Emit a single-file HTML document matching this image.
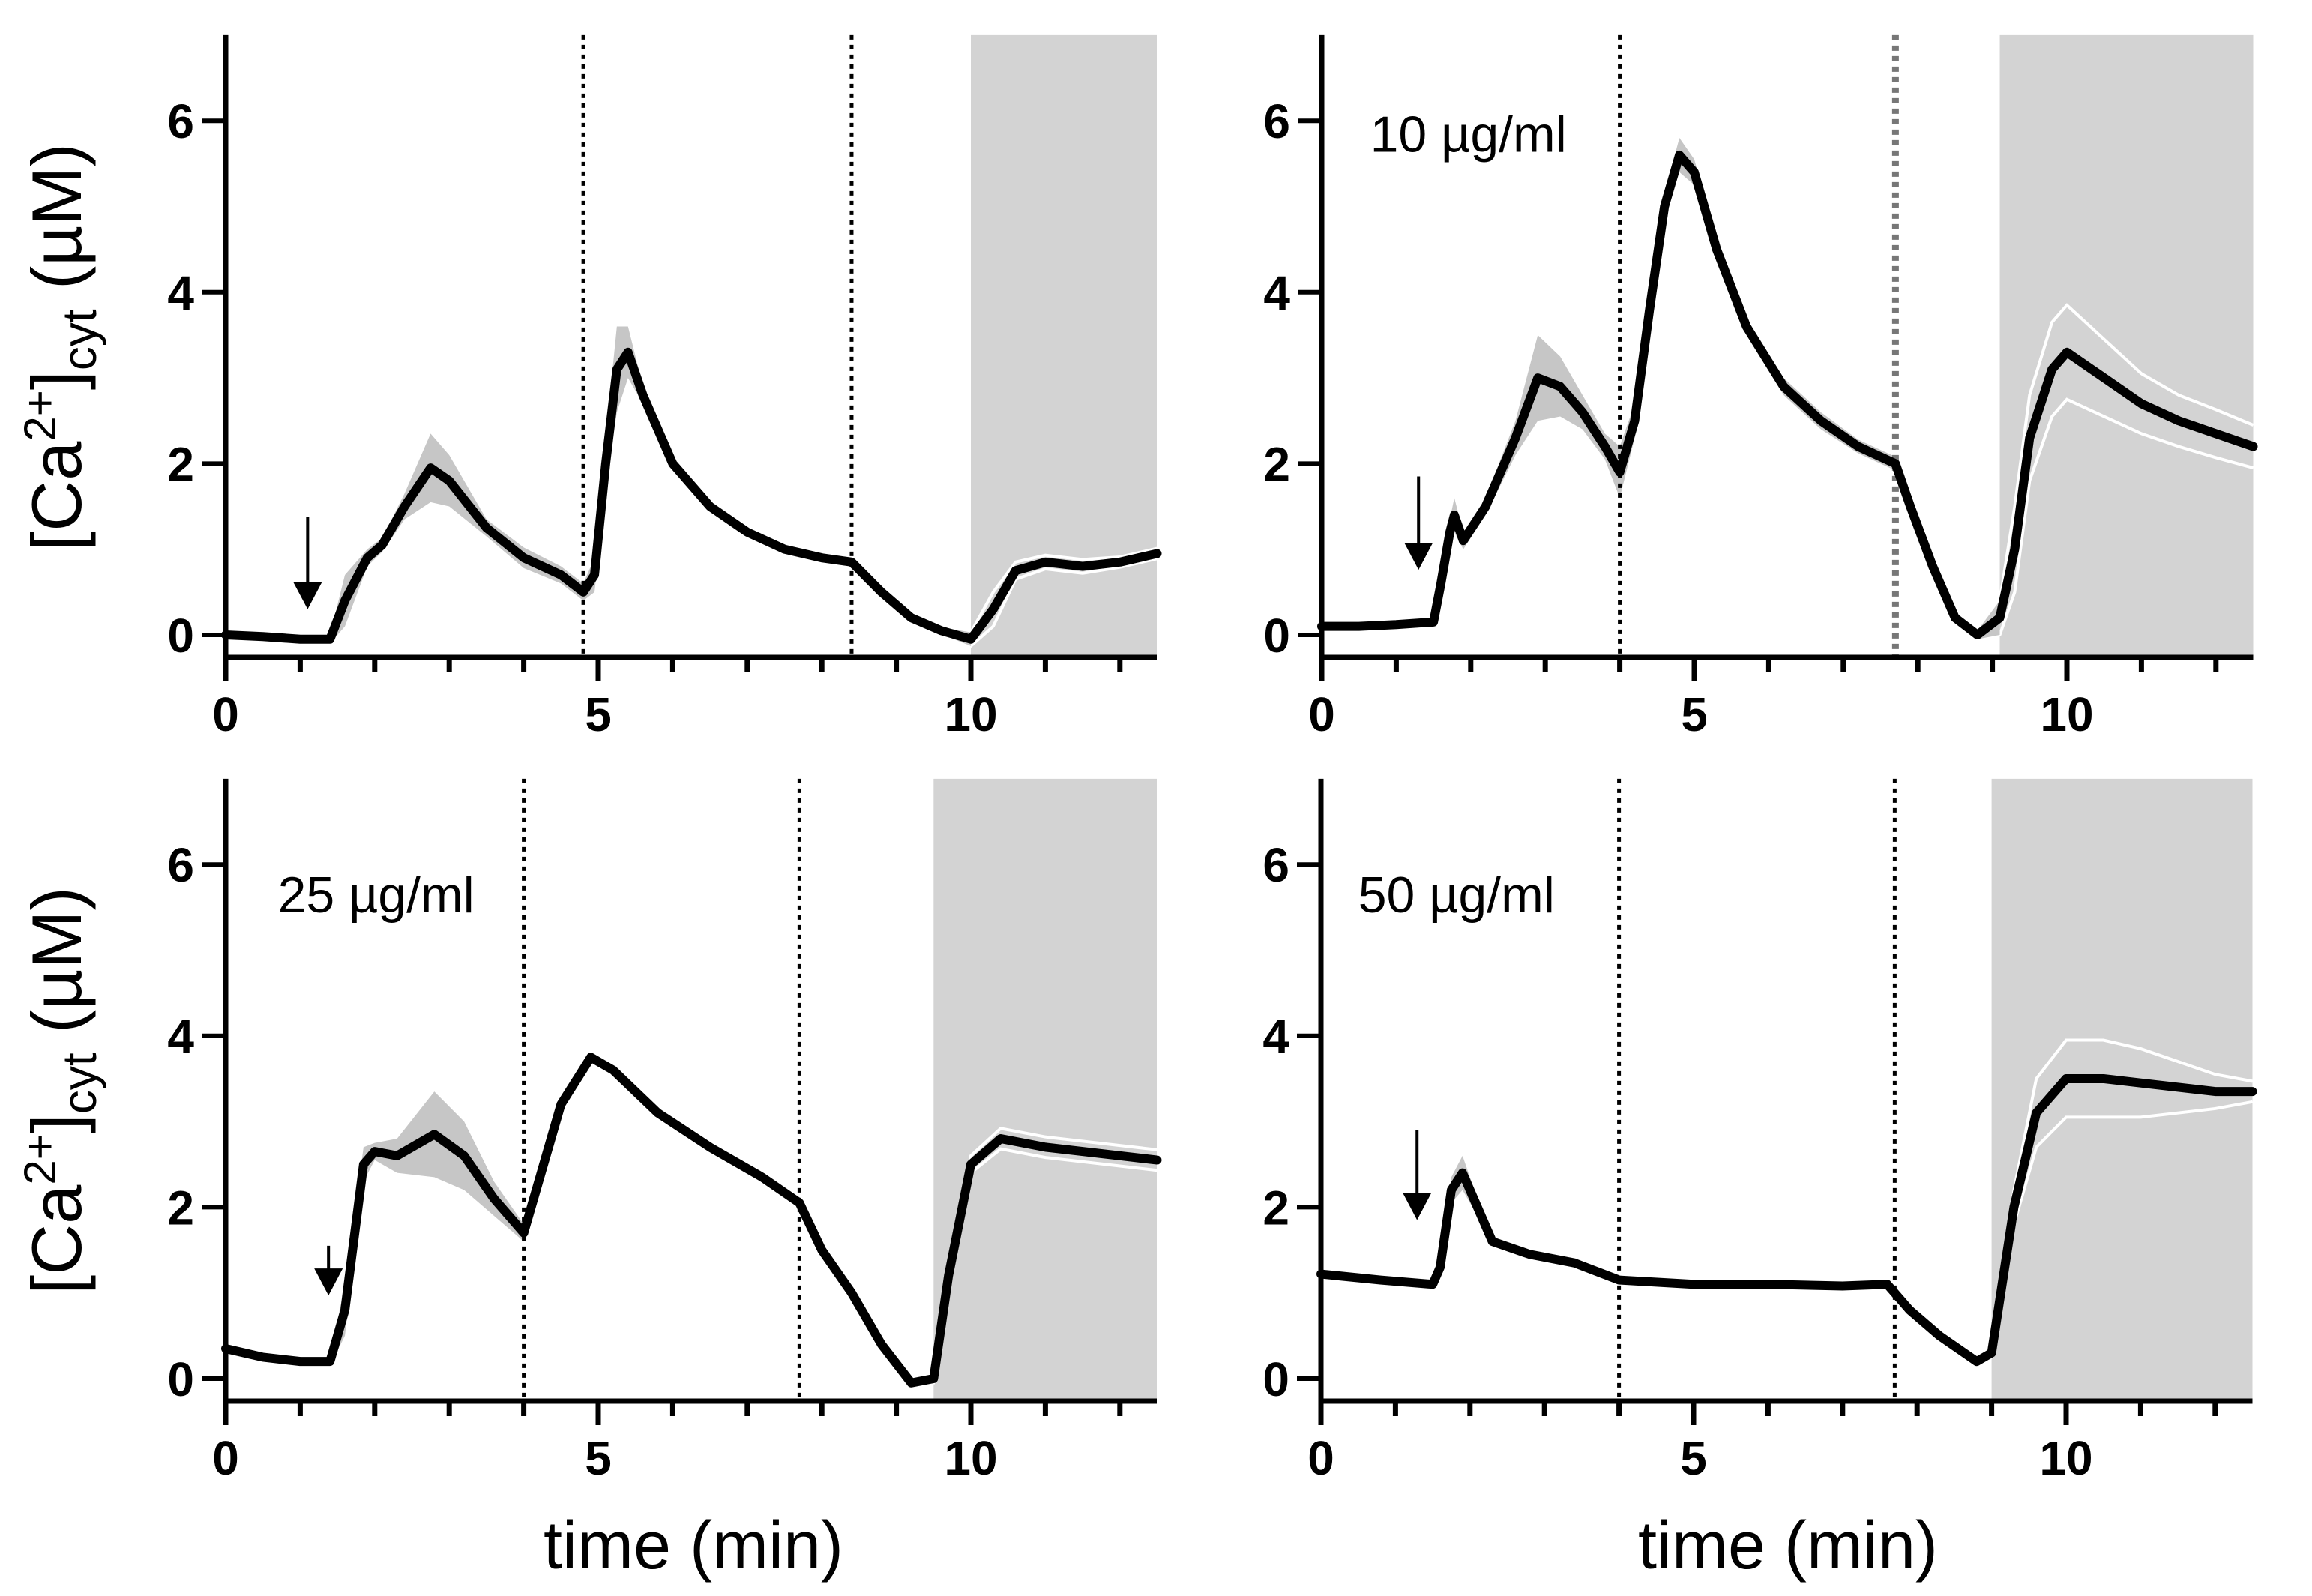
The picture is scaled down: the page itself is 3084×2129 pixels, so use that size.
<!DOCTYPE html>
<html><head><meta charset="utf-8"><style>
html,body{margin:0;padding:0;background:#fff}
svg{display:block}
text{font-family:"Liberation Sans",Arial,sans-serif}
</style></head><body>
<svg id="fig" width="3084" height="2129" viewBox="0 0 3084 2129" xmlns="http://www.w3.org/2000/svg">
<defs></defs>
<g><text transform="translate(108,463) rotate(-90)" text-anchor="middle" font-size="94">[Ca<tspan font-size="60" dy="-34">2+</tspan><tspan dy="34">]</tspan><tspan font-size="64" dy="20">cyt</tspan><tspan dy="-20"> (µM)</tspan></text></g>
<g><text transform="translate(108,1455) rotate(-90)" text-anchor="middle" font-size="94">[Ca<tspan font-size="60" dy="-34">2+</tspan><tspan dy="34">]</tspan><tspan font-size="64" dy="20">cyt</tspan><tspan dy="-20"> (µM)</tspan></text></g>
<text x="925" y="2092" text-anchor="middle" font-size="90">time (min)</text>
<text x="2385" y="2092" text-anchor="middle" font-size="90">time (min)</text>
</svg>
<script>
// Panel 1 (control)
const p1T = [0,0.5,1.0,1.4,1.6,1.9,2.1,2.4,2.75,3.0,3.5,4.0,4.5,4.8,4.95,5.1,5.25,5.4,5.6,6.0,6.5,7.0,7.5,8.0,8.4,8.8,9.2,9.6,10.0,10.3,10.6,11.0,11.5,12.0,12.5];
const p1Y = [0,-0.02,-0.05,-0.05,0.4,0.9,1.05,1.5,1.95,1.8,1.25,0.9,0.7,0.5,0.7,2.0,3.1,3.3,2.8,2.0,1.5,1.2,1.0,0.9,0.85,0.5,0.2,0.05,-0.05,0.3,0.75,0.85,0.8,0.85,0.95];
const p1S = [0.03,0.03,0.03,0.05,0.3,0.1,0.08,0.15,0.4,0.3,0.1,0.12,0.1,0.1,0.2,0.3,0.5,0.3,0.1,0.05,0.05,0.04,0.04,0.04,0.04,0.04,0.04,0.04,0.08,0.2,0.1,0.08,0.08,0.06,0.06];
// Panel 2 (10 µg/ml)
const p2T = [0,0.5,1.0,1.5,1.6,1.72,1.78,1.9,2.2,2.6,2.9,3.2,3.5,3.8,4.0,4.2,4.4,4.6,4.8,5.0,5.3,5.7,6.2,6.7,7.2,7.7,7.9,8.2,8.5,8.8,9.1,9.3,9.5,9.8,10.0,10.5,11.0,11.5,12.0,12.5];
const p2Y = [0.1,0.1,0.12,0.15,0.6,1.2,1.4,1.1,1.5,2.3,3.0,2.9,2.6,2.2,1.9,2.5,3.8,5.0,5.6,5.4,4.5,3.6,2.9,2.5,2.2,2.0,1.5,0.8,0.2,0.0,0.2,1.0,2.3,3.1,3.3,3.0,2.7,2.5,2.35,2.2];
const p2S = [0.05,0.05,0.05,0.05,0.1,0.15,0.2,0.1,0.1,0.2,0.5,0.35,0.2,0.15,0.3,0.2,0.15,0.15,0.2,0.15,0.1,0.1,0.1,0.1,0.08,0.08,0.08,0.05,0.05,0.05,0.2,0.5,0.5,0.55,0.55,0.45,0.35,0.3,0.28,0.25];
// Panel 3 (25 µg/ml)
const p3T = [0,0.5,1.0,1.4,1.6,1.85,2.0,2.3,2.8,3.2,3.6,4.0,4.2,4.5,4.9,5.2,5.8,6.5,7.2,7.7,8.0,8.4,8.8,9.2,9.5,9.7,10.0,10.4,11.0,12.0,12.5];
const p3Y = [0.35,0.25,0.2,0.2,0.8,2.5,2.65,2.6,2.85,2.6,2.1,1.7,2.3,3.2,3.75,3.6,3.1,2.7,2.35,2.05,1.5,1.0,0.4,-0.05,0.0,1.2,2.5,2.8,2.7,2.6,2.55];
const p3S = [0.05,0.05,0.05,0.05,0.3,0.2,0.1,0.2,0.5,0.4,0.2,0.1,0.1,0.05,0.05,0.05,0.05,0.05,0.05,0.05,0.05,0.05,0.05,0.05,0.05,0.1,0.1,0.12,0.12,0.12,0.12];
// Panel 4 (50 µg/ml)
const p4T = [0,0.8,1.5,1.6,1.75,1.9,2.1,2.3,2.8,3.4,4.0,5.0,6.0,7.0,7.6,7.9,8.3,8.8,9.0,9.3,9.6,10.0,10.5,11.0,12.0,12.5];
const p4Y = [1.22,1.15,1.1,1.3,2.2,2.4,2.0,1.6,1.45,1.35,1.15,1.1,1.1,1.08,1.1,0.8,0.5,0.2,0.3,2.0,3.1,3.5,3.5,3.45,3.35,3.35];
const p4S = [0.03,0.03,0.03,0.05,0.15,0.2,0.1,0.05,0.04,0.04,0.04,0.04,0.04,0.04,0.04,0.04,0.04,0.04,0.05,0.2,0.4,0.45,0.45,0.4,0.2,0.12];
// annotations
const vLines = [[4.8,8.4],[4.0,7.7],[4.0,7.7],[4.0,7.7]];
const shadeStart = [10.0,9.1,9.5,9.0];
const arrowT = [1.1,1.3,1.38,1.29];
const arrowTop = [1.38,1.85,1.55,2.9];
const arrowTip = [0.3,0.76,0.97,1.85];
const concLabels = ["","10 µg/ml","25 µg/ml","50 µg/ml"];
const concPos = [[0,0],[0.65,5.85],[0.7,5.65],[0.5,5.65]];
const yTicks = [0,2,4,6];
const xMajor = [0,5,10];
const xMinor = [1,2,3,4,6,7,8,9,11,12];

const NS = "http://www.w3.org/2000/svg";
const svg = document.getElementById('fig');
const origins = [[301,847],[1763,847],[301,1839],[1762,1839]];
const SX = 99.4, SY = 114.3, XMAX = 12.5, YMAX = 7;
const data = [[p1T,p1Y,p1S],[p2T,p2Y,p2S],[p3T,p3Y,p3S],[p4T,p4Y,p4S]];
function mk(tag, attrs, parent){const e=document.createElementNS(NS,tag);for(const k in attrs)e.setAttribute(k,attrs[k]);(parent||svg).appendChild(e);return e;}

data.forEach((d,i)=>{
  const [ox,oy]=origins[i];
  const X=t=>ox+t*SX, Y=v=>oy-v*SY;
  const g=mk('g',{});
  
  
  const axisY=oy+30;
  const sh=mk('rect',{x:X(shadeStart[i]),y:Y(YMAX),width:X(XMAX)-X(shadeStart[i]),height:axisY-Y(YMAX),fill:'#d3d3d3'},g);
  
  
  const cp=mk('clipPath',{id:'cl'+i},svg.querySelector('defs'));
  mk('rect',{x:0,y:0,width:X(shadeStart[i]),height:2129},cp);
  const cp2=mk('clipPath',{id:'cr'+i},svg.querySelector('defs'));
  mk('rect',{x:X(shadeStart[i]),y:0,width:2000,height:2129},cp2);
  const [T,M,S]=d;
  const up=T.map((t,k)=>X(t)+','+Y(M[k]+S[k]));
  const lo=T.map((t,k)=>X(t)+','+Y(M[k]-S[k]));
  const band=mk('polygon',{points:up.concat(lo.slice().reverse()).join(' '),fill:'#c6c6c6','clip-path':'url(#cl'+i+')'},g);
  
  
  const bu=mk('polyline',{points:up.join(' '),fill:'none',stroke:'#fff','stroke-width':4,'clip-path':'url(#cr'+i+')'},g);
  
  
  const bl=mk('polyline',{points:lo.join(' '),fill:'none',stroke:'#fff','stroke-width':4,'clip-path':'url(#cr'+i+')'},g);
  
  
  vLines[i].forEach((t,k)=>{
    const grey=(i===1&&k===1);
    const l=mk('line',{x1:X(t),x2:X(t),y1:Y(YMAX),y2:axisY,stroke:grey?'#777':'#000','stroke-width':grey?9:5,'stroke-dasharray':grey?'7 7':'6 7'},g);
    
    
  });
  const tr=mk('polyline',{points:T.map((t,k)=>X(t)+','+Y(M[k])).join(' '),fill:'none',stroke:'#000','stroke-width':12,'stroke-linejoin':'round','stroke-linecap':'round'},g);
  
  
  const ya=mk('line',{x1:ox,x2:ox,y1:Y(YMAX),y2:oy+60,stroke:'#000','stroke-width':7},g);
  
  
  const xa=mk('line',{x1:ox,x2:X(XMAX),y1:axisY,y2:axisY,stroke:'#000','stroke-width':7},g);
  
  
  yTicks.forEach(v=>{
    mk('line',{x1:ox-32,x2:ox,y1:Y(v),y2:Y(v),stroke:'#000','stroke-width':6},g);
    const tx=mk('text',{x:ox-42,y:Y(v)+23,'text-anchor':'end','font-size':64,'font-weight':'bold'},g);
    tx.textContent=v;
    
    
  });
  xMajor.forEach(t=>{
    mk('line',{x1:X(t),x2:X(t),y1:axisY,y2:axisY+32,stroke:'#000','stroke-width':7},g);
    const tx=mk('text',{x:X(t),y:axisY+98,'text-anchor':'middle','font-size':64,'font-weight':'bold'},g);
    tx.textContent=t;
    
    
  });
  xMinor.forEach(t=>{mk('line',{x1:X(t),x2:X(t),y1:axisY,y2:axisY+20,stroke:'#000','stroke-width':7},g);});
  const ag=mk('g',{},g);
  
  
  const ax=X(arrowT[i]), at=Y(arrowTop[i]), ap=Y(arrowTip[i]);
  mk('line',{x1:ax,x2:ax,y1:at,y2:ap-20,stroke:'#000','stroke-width':4},ag);
  mk('polygon',{points:(ax-19)+','+(ap-36)+' '+(ax+19)+','+(ap-36)+' '+ax+','+ap,fill:'#000'},ag);
  if(concLabels[i]){
    const c=mk('text',{x:X(concPos[i][0]),y:Y(concPos[i][1])+24,'font-size':68},g);
    c.textContent=concLabels[i];
    
    
  }
});
</script>
</body></html>
